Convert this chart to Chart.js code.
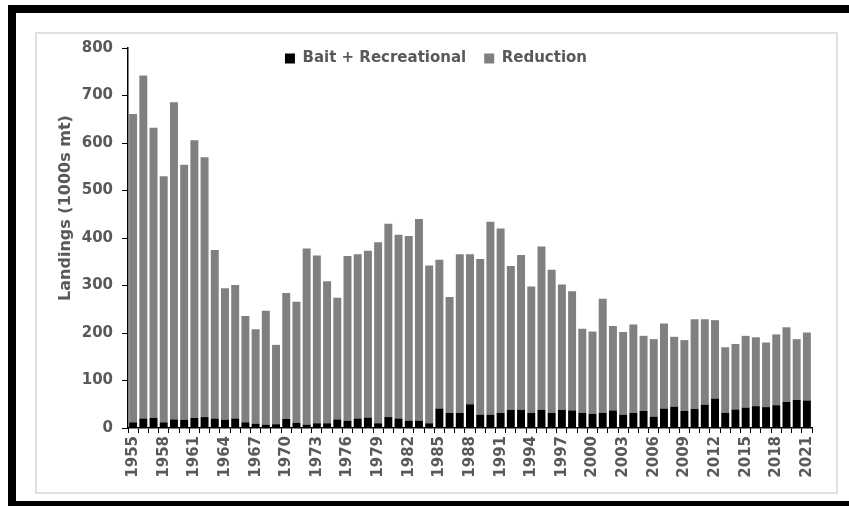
<!DOCTYPE html>
<html>
<head>
<meta charset="utf-8">
<script src="https://cdn.jsdelivr.net/npm/chart.js@4/dist/chart.umd.min.js"></script>
<style>
html,body{margin:0;padding:0;background:#fff;width:849px;height:506px;overflow:hidden;}
#frame{position:absolute;left:8px;top:5px;width:900px;height:488px;border-top:8px solid #000;border-left:8px solid #000;border-bottom:8px solid #000;}
#inner{position:absolute;left:35px;top:32px;width:799px;height:458px;border:2px solid #e0e0e0;}
#c{position:absolute;left:0;top:0;}
</style>
</head>
<body>
<div id="frame"></div>
<div id="inner"></div>
<canvas id="c" width="849" height="506"></canvas>
<script>
const years = ['1955','1956','1957','1958','1959','1960','1961','1962','1963','1964',
  '1965','1966','1967','1968','1969','1970','1971','1972','1973','1974',
  '1975','1976','1977','1978','1979','1980','1981','1982','1983','1984',
  '1985','1986','1987','1988','1989','1990','1991','1992','1993','1994',
  '1995','1996','1997','1998','1999','2000','2001','2002','2003','2004',
  '2005','2006','2007','2008','2009','2010','2011','2012','2013','2014',
  '2015','2016','2017','2018','2019','2020','2021'];

const tickYears = ['1955','1958','1961','1964','1967','1970','1973','1976','1979','1982',
  '1985','1988','1991','1994','1997','2000','2003','2006','2009','2012','2015','2018','2021'];

const baitRecreational = [12,20,21,12,18,17,21,23,20,17,
  20,12,9,7,8,19,11,7,10,10,
  18,15,20,22,10,23,20,15,15,10,
  41,32,32,50,28,28,32,38,38,32,
  38,32,38,37,32,30,32,37,28,32,
  36,24,41,45,36,40,49,62,32,39,
  43,46,44,48,55,59,58];

const reduction = [649,722,611,518,668,537,585,547,355,277,
  281,224,199,240,167,265,255,371,353,299,
  256,347,346,351,381,407,387,389,425,332,
  313,244,334,316,328,406,388,303,326,266,
  344,301,264,251,177,173,240,178,174,186,
  158,163,179,147,149,189,180,165,138,138,
  151,145,136,149,157,128,143];

const yTitle = 'Landings (1000s mt)';
const textColor = '#595959';
const fontFamily = "'DejaVu Sans', sans-serif";

const legendFix = {
  id: 'legendFix',
  beforeLayout(chart) {
    const lg = chart.legend;
    if (lg && !lg._patched) {
      const f = lg.fit.bind(lg);
      lg.fit = function () { f(); this.height = 15; };
      lg._patched = true;
    }
  },
  afterLayout(chart) {
    const lg = chart.legend;
    if (!lg) return;
    lg.left += 5; lg.right += 5;
    lg.bottom = lg.top + 50; lg.height = 50;
  }
};

new Chart(document.getElementById('c'), {
  type: 'bar',
  data: {
    labels: years,
    datasets: [
      { label: 'Bait + Recreational', data: baitRecreational, backgroundColor: '#000000', stack: 's' },
      { label: 'Reduction', data: reduction, backgroundColor: '#808080', stack: 's' }
    ]
  },
  options: {
    responsive: false,
    animation: false,
    devicePixelRatio: 1,
    layout: { padding: { left: 50, right: 37, top: 33, bottom: 18 } },
    datasets: { bar: { categoryPercentage: 1, barPercentage: 0.78 } },
    plugins: {
      legend: {
        position: 'top', align: 'center',
        labels: { boxWidth: 10, boxHeight: 10, padding: 18, color: textColor,
                  font: { family: fontFamily, size: 15, weight: 'bold' } }
      },
      tooltip: { enabled: false }
    },
    scales: {
      x: {
        stacked: true,
        grid: { display: true, drawOnChartArea: false, drawTicks: true, tickLength: 5, color: '#000', offset: true },
        border: { display: true, color: '#000', width: 1.5 },
        ticks: {
          autoSkip: false, minRotation: 90, maxRotation: 90, padding: 3, color: textColor,
          font: { family: fontFamily, size: 15, weight: 'bold' },
          callback(v, i) { const l = years[i]; return tickYears.includes(l) ? l : ''; }
        },
        afterFit(s) { s.height = 60; }
      },
      y: {
        stacked: true, min: 0, max: 800,
        ticks: { stepSize: 100, padding: 9, color: textColor, font: { family: fontFamily, size: 15, weight: 'bold' } },
        grid: { drawOnChartArea: false, drawTicks: true, tickLength: 6, color: '#000' },
        border: { display: true, color: '#000', width: 1.5 },
        title: { display: true, text: yTitle, color: textColor,
                 font: { family: fontFamily, size: 16, weight: 'bold' }, padding: { top: 6, bottom: 0 } },
        afterFit(s) {
          s.width = 78;
          if (!s._titlePatched) {
            const orig = s.drawTitle.bind(s);
            s.drawTitle = function () { const t = this.top; this.top = t - 60; orig(); this.top = t; };
            s._titlePatched = true;
          }
        }
      }
    }
  },
  plugins: [legendFix]
});
</script>
</body>
</html>
